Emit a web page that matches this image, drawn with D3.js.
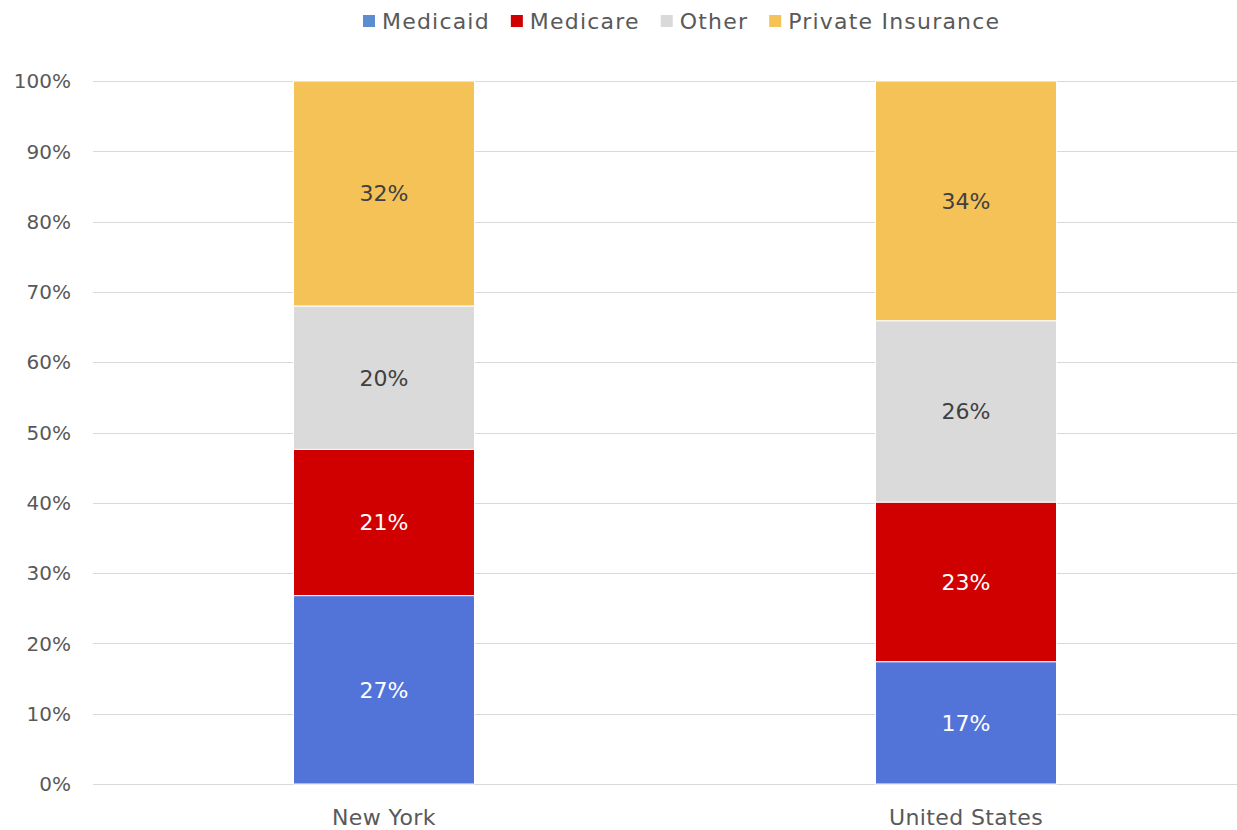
<!DOCTYPE html>
<html>
<head>
<meta charset="utf-8">
<script src="https://cdn.jsdelivr.net/npm/d3@7"></script>
<style>
  body { margin: 0; background: #fff; }
  svg { display: block; font-family: "DejaVu Sans", sans-serif; }
</style>
</head>
<body>
<svg id="chart" width="1237" height="830"></svg>
<script>
'use strict';

// Chart data.
const categories = ['New York', 'United States'];
const seriesNames = ['Medicaid', 'Medicare', 'Other', 'Private Insurance'];
const medicaid = [26.8, 17.4];
const medicare = [20.8, 22.7];
const other = [20.4, 25.8];
const privateIns = [32.0, 34.1];
const yTicks = [0, 10, 20, 30, 40, 50, 60, 70, 80, 90, 100];

const barColors = ['#5274d9', '#d00000', '#dadada', '#f4c257'];
const legendColors = ['#5b8dd0', '#d00000', '#d9d9d9', '#f4c257'];
const labelColors = ['#ffffff', '#ffffff', '#404040', '#404040'];

const seriesValues = [medicaid, medicare, other, privateIns];
const rows = categories.map((c, i) => {
  const row = { category: c };
  seriesNames.forEach((s, j) => { row[s] = seriesValues[j][i]; });
  return row;
});

const svg = d3.select('#chart');
const margin = { top: 81, left: 93 };
const plotH = 703;
const plotRight = 1257;

const x = d3.scaleBand()
  .domain(categories)
  .range([margin.left, plotRight]);
const barW = 181;

const y = d3.scaleLinear()
  .domain([0, 100])
  .range([margin.top + plotH, margin.top]);

// Grid lines
svg.append('g')
  .selectAll('line')
  .data(yTicks)
  .join('line')
  .attr('x1', margin.left)
  .attr('x2', 1237)
  .attr('y1', d => Math.round(y(d)) + 0.5)
  .attr('y2', d => Math.round(y(d)) + 0.5)
  .attr('stroke', '#d9d9d9')
  .attr('stroke-width', 1);

// Y axis labels
svg.append('g')
  .selectAll('text')
  .data(yTicks)
  .join('text')
  .attr('x', 71)
  .attr('y', d => y(d))
  .attr('dy', '0.36em')
  .attr('text-anchor', 'end')
  .attr('fill', '#595959')
  .attr('font-size', 20)
  .text(d => d + '%');

// Stacked bars
const stack = d3.stack().keys(seriesNames)(rows);

const layers = svg.append('g')
  .selectAll('g')
  .data(stack)
  .join('g')
  .attr('fill', (d, i) => barColors[i]);

layers.selectAll('rect')
  .data(d => d)
  .join('rect')
  .attr('x', d => x(d.data.category) + x.bandwidth() / 2 - barW / 2)
  .attr('width', barW)
  .attr('y', d => y(d[1]))
  .attr('height', d => y(d[0]) - y(d[1]))
  .attr('stroke', '#ffffff')
  .attr('stroke-width', 1);

// Value labels
stack.forEach((layer, i) => {
  svg.append('g')
    .selectAll('text')
    .data(layer)
    .join('text')
    .attr('x', d => x(d.data.category) + x.bandwidth() / 2)
    .attr('y', d => y((d[0] + d[1]) / 2))
    .attr('dy', '0.36em')
    .attr('text-anchor', 'middle')
    .attr('fill', labelColors[i])
    .attr('font-size', 22)
    .text(d => Math.round(d[1] - d[0]) + '%');
});

// Category labels
svg.append('g')
  .selectAll('text')
  .data(categories)
  .join('text')
  .attr('x', d => x(d) + x.bandwidth() / 2)
  .attr('y', 817)
  .attr('dy', '0.36em')
  .attr('text-anchor', 'middle')
  .attr('fill', '#595959')
  .attr('font-size', 22)
  .attr('letter-spacing', 0.4)
  .text(d => d);

// Legend
const legend = svg.append('g').attr('transform', 'translate(0,21)');
let lx = 363;
seriesNames.forEach((name, i) => {
  const g = legend.append('g').attr('transform', `translate(${lx},0)`);
  g.append('rect')
    .attr('x', 0).attr('y', -6)
    .attr('width', 12).attr('height', 12)
    .attr('fill', legendColors[i]);
  const t = g.append('text')
    .attr('x', 19)
    .attr('dy', '0.36em')
    .attr('fill', '#595959')
    .attr('font-size', 22)
    .attr('letter-spacing', 1.2)
    .text(name);
  lx += 19 + t.node().getComputedTextLength() + 21;
});
</script>
</body>
</html>
